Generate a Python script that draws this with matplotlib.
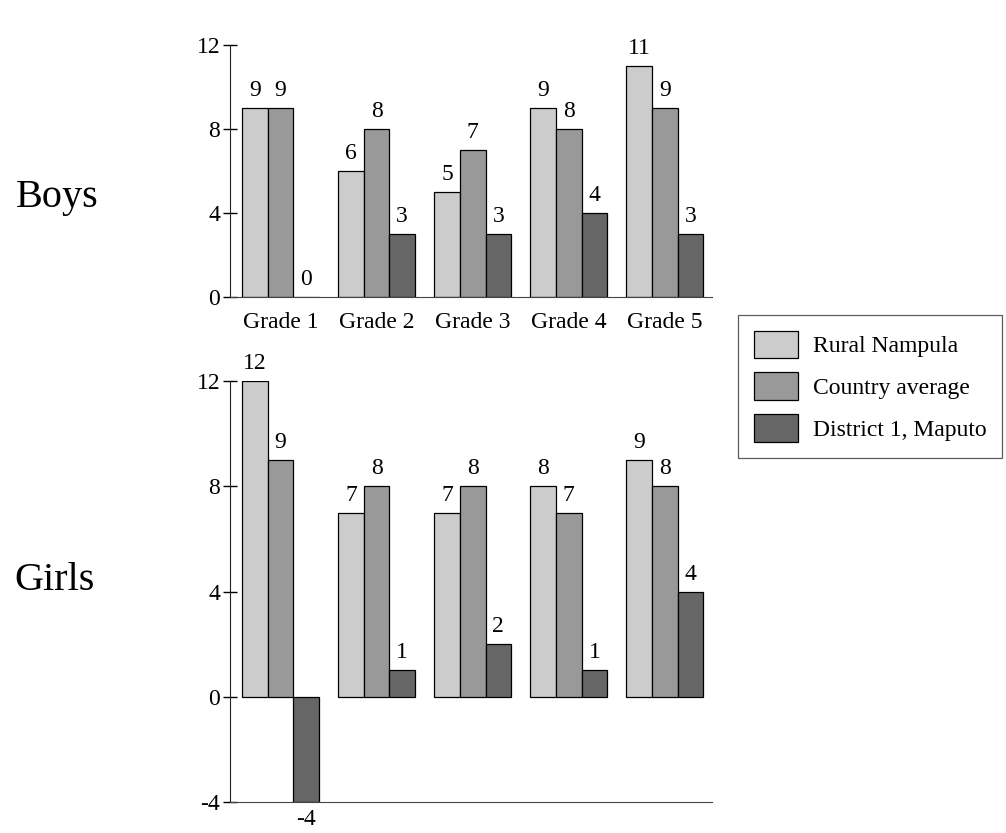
import numpy as np
import matplotlib
matplotlib.use("Agg")
import matplotlib.pyplot as plt

plt.rcParams["font.family"] = ["Liberation Serif", "DejaVu Serif"]

grades = ["Grade 1", "Grade 2", "Grade 3", "Grade 4", "Grade 5"]
series = ["Rural Nampula", "Country average", "District 1, Maputo"]
colors = ["#cccccc", "#999999", "#666666"]

boys_rural = [9, 6, 5, 9, 11]
boys_country = [9, 8, 7, 8, 9]
boys_district = [0, 3, 3, 4, 3]

girls_rural = [12, 7, 7, 8, 9]
girls_country = [9, 8, 8, 7, 8]
girls_district = [-4, 1, 2, 1, 4]

FS = 17
W = 0.267

fig = plt.figure(figsize=(10.06, 8.33), dpi=100)
ax_b = fig.add_axes([230 / 1006, 1 - 297 / 833, 482 / 1006, 252 / 833])
ax_g = fig.add_axes([230 / 1006, 1 - 802 / 833, 482 / 1006, 421 / 833])


def draw(ax, values, ylim, yticks, show_x):
    x = np.arange(len(grades))
    handles = []
    for i, (vals, name, c) in enumerate(zip(values, series, colors)):
        bars = ax.bar(x + (i - 1) * W, vals, W, color=c, edgecolor="black",
                      linewidth=0.9, label=name)
        ax.bar_label(bars, padding=5, fontsize=FS)
        handles.append(bars)
    ax.set_xlim(-0.525, 4.49)
    ax.set_ylim(*ylim)
    ax.set_yticks(yticks)
    ax.set_yticklabels([str(t) for t in yticks])
    for s in ["top", "right"]:
        ax.spines[s].set_visible(False)
    ax.spines["left"].set_color("#222222")
    ax.spines["bottom"].set_color("#444444")
    ax.tick_params(axis="y", direction="inout", length=10, width=1, pad=2,
                   labelsize=FS)
    if show_x:
        ax.set_xticks(x)
        ax.set_xticklabels(grades, fontsize=FS)
        ax.tick_params(axis="x", length=0, pad=11)
    else:
        ax.set_xticks([])
    ax.patch.set_visible(False)
    return handles


h = draw(ax_b, [boys_rural, boys_country, boys_district], (0, 12), [0, 4, 8, 12], True)
draw(ax_g, [girls_rural, girls_country, girls_district], (-4, 12), [-4, 0, 4, 8, 12], False)

fig.text(57 / 1006, 1 - 197 / 833, "Boys", fontsize=29, ha="center", va="center")
fig.text(55 / 1006, 1 - 580 / 833, "Girls", fontsize=29, ha="center", va="center")

leg = fig.legend(h, series, loc="upper left",
                 bbox_to_anchor=(738 / 1006, 1 - 315 / 833),
                 fontsize=FS, frameon=True, fancybox=False,
                 handlelength=1.9, handleheight=1.43, labelspacing=0.6,
                 handletextpad=0.6, borderpad=0.66, borderaxespad=0)
leg.get_frame().set_edgecolor("#333333")
leg.get_frame().set_linewidth(0.9)

fig.savefig("out.png", dpi=100)
